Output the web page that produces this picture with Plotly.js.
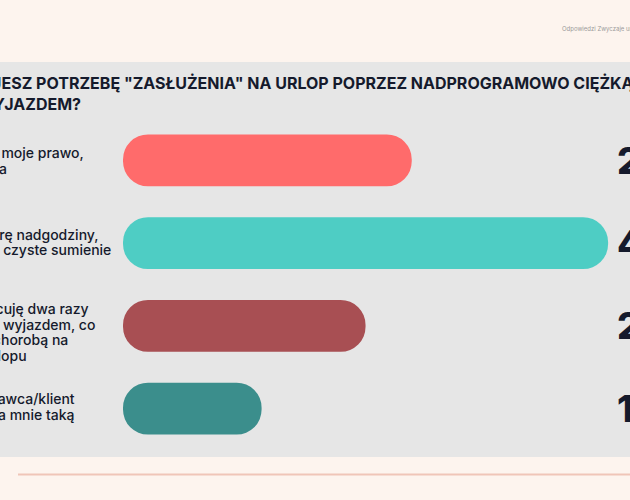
<!DOCTYPE html>
<html>
<head>
<meta charset="utf-8">
<script src="https://cdn.plot.ly/plotly-3.0.1.min.js"></script>
<style>
  html, body { margin: 0; padding: 0; background: #fdf4ee; }
  #chart { width: 630px; height: 500px; }
</style>
</head>
<body>
<div id="chart"></div>
<script>
// ---- data ----
const titleLines = ["CZY CZUJESZ POTRZEBĘ \"ZASŁUŻENIA\" NA URLOP POPRZEZ NADPROGRAMOWO CIĘŻKĄ PRACĘ", "PRZED WYJAZDEM?"];
const sourceText = "Odpowiedzi Zwyczaje urlopowe Polaków";
const categories = [
  "Nie, urlop to moje prawo, a nie nagroda",
  "Tak, biorę nadgodziny, by mieć czyste sumienie",
  "Zawsze pracuję dwa razy ciężej przed wyjazdem, co kończy się chorobą na początku urlopu",
  "Mój pracodawca/klient wymusza na mnie taką"
];
const labelLines = [
  ["Nie, urlop to moje prawo,", "a nie nagroda"],
  ["Tak, biorę nadgodziny,", "by mieć czyste sumienie"],
  ["Zawsze pracuję dwa razy", "ciężej przed wyjazdem, co", "kończy się chorobą na", "początku urlopu"],
  ["Mój pracodawca/klient", "wymusza na mnie taką"]
];
const values = [25, 42, 21, 12];
const valueLabels = ["25%", "42%", "21%", "12%"];

// ---- layout helpers ----
const W = 630, H = 500;
const L = 123, T = 119, B = 50, R = 0;
const plotW = W - L - R, plotH = H - T - B;
const pxPerUnit = 11.55;
const px2x = px => (px - L) / plotW;
const py2y = py => (H - B - py) / plotH;
const ctx = document.createElement('canvas').getContext('2d');
function tw(str, font) { ctx.font = font; return ctx.measureText(str).width; }

const barColors = ['#ff6b6b', '#4ecdc4', '#a84f53', '#3b8e8c'];
const ink = '#151a2c';

// pill-shaped bars (explicit base -> both ends rounded)
const bars = {
  type: 'bar', orientation: 'h',
  y: categories,
  base: values.map(() => 0),
  x: values,
  marker: { color: barColors, cornerradius: '50%', line: { width: 0 } },
  hoverinfo: 'none', textposition: 'none'
};

const annotations = [];
// title
const titleFont = '700 16px Inter';
annotations.push({
  xref: 'paper', yref: 'paper',
  x: px2x(1 - tw('CZY CZUJ', titleFont) - 2), y: py2y(71),
  xanchor: 'left', yanchor: 'top', align: 'left', showarrow: false,
  text: titleLines.join('<br>'),
  font: { family: 'Inter, sans-serif', size: 16, weight: 700, color: ink }
});
// source text top-right
annotations.push({
  xref: 'paper', yref: 'paper', x: px2x(560), y: py2y(29),
  xanchor: 'left', yanchor: 'middle', showarrow: false,
  text: sourceText,
  font: { family: 'Inter, sans-serif', size: 6, color: '#9b9b9b' }
});
// category labels, one annotation per line
const labelFont = '500 14px Inter';
const labelCuts = [['Nie, urlop to ', 0], ['Tak, bio', -2], ['Zawsze pra', -6], ['Mój pracod', -4]];
const labelShift = [0, 1, -6, 2];
const lineGap = 15.5;
labelLines.forEach((lines, i) => {
  const x0 = px2x(labelCuts[i][1] - tw(labelCuts[i][0], labelFont));
  lines.forEach((ln, j) => {
    annotations.push({
      xref: 'paper', yref: 'y',
      x: x0, y: categories[i],
      xanchor: 'left', yanchor: 'middle', align: 'left', showarrow: false,
      yshift: ((lines.length - 1) / 2 - j) * lineGap + labelShift[i],
      text: ln,
      font: { family: 'Inter, sans-serif', size: 14, weight: 500, color: ink }
    });
  });
});
// value labels
valueLabels.forEach((v, i) => {
  annotations.push({
    xref: 'paper', yref: 'y', x: px2x(615), y: categories[i],
    xanchor: 'left', yanchor: 'middle', showarrow: false,
    text: v,
    font: { family: 'Inter, sans-serif', size: 37, weight: 800, color: ink }
  });
});

const layout = {
  width: W, height: H,
  margin: { l: L, r: R, t: T, b: B, pad: 0 },
  paper_bgcolor: '#fdf4ee',
  plot_bgcolor: 'rgba(0,0,0,0)',
  showlegend: false,
  bargap: 0.372,
  xaxis: { range: [0, plotW / pxPerUnit], visible: false, fixedrange: true },
  yaxis: { autorange: 'reversed', visible: false, fixedrange: true },
  shapes: [
    { type: 'rect', xref: 'paper', yref: 'paper', layer: 'below',
      x0: px2x(-2), x1: px2x(W + 2), y0: py2y(457), y1: py2y(62),
      fillcolor: '#e6e6e6', line: { width: 0 } },
    { type: 'line', xref: 'paper', yref: 'paper', layer: 'below',
      x0: px2x(18), x1: px2x(W + 2), y0: py2y(474.5), y1: py2y(474.5),
      line: { color: '#f0c5b8', width: 2 } }
  ],
  annotations: annotations
};

Plotly.newPlot('chart', [bars], layout, { displayModeBar: false, staticPlot: true });
</script>
</body>
</html>
